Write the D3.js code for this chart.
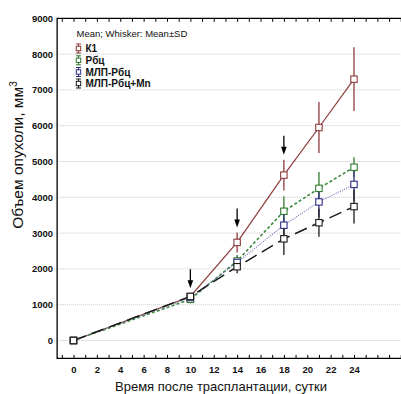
<!DOCTYPE html>
<html>
<head>
<meta charset="utf-8">
<script src="https://cdn.jsdelivr.net/npm/d3@7"></script>
<style>
  html, body { margin: 0; padding: 0; background: #fff; }
  svg { display: block; font-family: "Liberation Sans", Arial, sans-serif; }
</style>
</head>
<body>
<svg id="chart" width="401" height="394"></svg>
<script>
// days after transplantation
const days = [0, 10, 14, 18, 21, 24];
// mean tumour volume, mm3
const k1 = [0, 1230, 2740, 4620, 5950, 7300];
const rbc = [0, 1150, 2220, 3610, 4250, 4840];
const mlpRbc = [0, 1200, 2180, 3220, 3870, 4360];
const mlpRbcMn = [0, 1230, 2060, 2840, 3290, 3740];
// standard deviation
const k1Sd = [0, 90, 280, 430, 710, 890];
const rbcSd = [0, 110, 170, 420, 460, 280];
const mlpRbcSd = [0, 100, 160, 380, 420, 470];
const mlpRbcMnSd = [0, 80, 180, 450, 390, 470];
// injection days marked with arrows
const arrowDays = [10, 14, 18];
const seriesNames = ["К1", "Рбц", "МЛП-Рбц", "МЛП-Рбц+Mn"];
const xLabelTicks = [0, 2, 4, 6, 8, 10, 12, 14, 16, 18, 20, 22, 24];
const yTicks = [0, 1000, 2000, 3000, 4000, 5000, 6000, 7000, 8000, 9000];

const series = [
  { name: seriesNames[0], mean: k1, sd: k1Sd, color: "#8c3b3b", barColor: "#8c3b3b", width: 1.2, dash: null },
  { name: seriesNames[1], mean: rbc, sd: rbcSd, color: "#3d8a3d", barColor: "#2f7a2f", width: 1.6, dash: "3,2.2" },
  { name: seriesNames[2], mean: mlpRbc, sd: mlpRbcSd, color: "#6b6bb5", barColor: "#2e2e80", width: 1.1, dash: "1,1.3" },
  { name: seriesNames[3], mean: mlpRbcMn, sd: mlpRbcMnSd, color: "#1a1a1a", barColor: "#1a1a1a", width: 1.5, dash: "13,6" }
];

const svg = d3.select("#chart");

const x = d3.scaleLinear().domain([0, 24]).range([73.5, 354]);
const y = d3.scaleLinear().domain([-500, 9000]).range([358.4, 18.3]);

const frameLeft = x(-1.4), frameRight = x(30), frameTop = y(9000), frameBottom = y(-500);

// gridlines
svg.append("g")
  .selectAll("line")
  .data(yTicks.filter(d => d < 9000))
  .join("line")
    .attr("x1", frameLeft).attr("x2", frameRight)
    .attr("y1", d => y(d)).attr("y2", d => y(d))
    .attr("stroke", "#c8c8c8")
    .attr("stroke-width", 1)
    .attr("stroke-dasharray", "1,1");

// minor ticks bottom / top
svg.append("g")
  .attr("transform", `translate(0,${frameBottom})`)
  .call(d3.axisBottom(x).tickValues(d3.range(-1, 31)).tickSize(-3.5).tickFormat(""))
  .call(g => g.select(".domain").remove())
  .selectAll(".tick line").attr("stroke", "#000");

svg.append("g")
  .attr("transform", `translate(0,${frameTop})`)
  .call(d3.axisTop(x).tickValues(d3.range(-1, 31)).tickSize(-3.5).tickFormat(""))
  .call(g => g.select(".domain").remove())
  .selectAll(".tick line").attr("stroke", "#000");

// x labels
svg.append("g")
  .attr("transform", `translate(0,${frameBottom})`)
  .call(d3.axisBottom(x).tickValues(xLabelTicks).tickSize(0).tickPadding(8).tickFormat(d3.format("d")))
  .call(g => g.select(".domain").remove())
  .selectAll(".tick text")
    .attr("font-size", 9.5)
    .attr("font-weight", "bold")
    .attr("font-family", "Liberation Sans, Arial, sans-serif")
    .attr("fill", "#111");

// y labels
svg.append("g")
  .attr("transform", `translate(${frameLeft},0)`)
  .call(d3.axisLeft(y).tickValues(yTicks).tickSize(0).tickPadding(4).tickFormat(d3.format("d")))
  .call(g => g.select(".domain").remove())
  .selectAll(".tick text")
    .attr("font-size", 9.5)
    .attr("font-weight", "bold")
    .attr("font-family", "Liberation Sans, Arial, sans-serif")
    .attr("fill", "#111");

// frame
svg.append("path")
  .attr("d", `M${frameRight},${frameTop}H${frameLeft}V${frameBottom}H${frameRight}`)
  .attr("fill", "none")
  .attr("stroke", "#000")
  .attr("stroke-width", 1.3);

// lines
const line = d3.line()
  .x((d, i) => x(days[i]))
  .y(d => y(d));

const plot = svg.append("g");

series.forEach(s => {
  plot.append("path")
    .datum(s.mean)
    .attr("fill", "none")
    .attr("stroke", s.color)
    .attr("stroke-width", s.width)
    .attr("stroke-dasharray", s.dash)
    .attr("d", line);
});

// whiskers
series.forEach(s => {
  plot.append("g")
    .selectAll("line")
    .data(s.mean.map((m, i) => ({ day: days[i], lo: m - s.sd[i], hi: m + s.sd[i] })).filter(d => d.hi > d.lo))
    .join("line")
      .attr("x1", d => x(d.day)).attr("x2", d => x(d.day))
      .attr("y1", d => y(d.lo)).attr("y2", d => y(d.hi))
      .attr("stroke", s.barColor)
      .attr("stroke-width", 1.3);
});

// markers
series.forEach(s => {
  plot.append("g")
    .selectAll("rect")
    .data(s.mean.map((m, i) => ({ day: days[i], v: m })))
    .join("rect")
      .attr("x", d => x(d.day) - 3.2)
      .attr("y", d => y(d.v) - 3.2)
      .attr("width", 6.4)
      .attr("height", 6.4)
      .attr("fill", "#fff")
      .attr("stroke", s.barColor)
      .attr("stroke-width", 1.1);
});

// arrows above the highest whisker
const arrows = svg.append("g");
arrowDays.forEach(day => {
  const i = days.indexOf(day);
  const tipY = d3.min(series, s => y(s.mean[i] + s.sd[i])) - 5;
  const ax = x(day);
  arrows.append("line")
    .attr("x1", ax).attr("x2", ax)
    .attr("y1", tipY - 19).attr("y2", tipY - 6)
    .attr("stroke", "#000").attr("stroke-width", 1.3);
  arrows.append("path")
    .attr("d", `M${ax - 2.8},${tipY - 8}L${ax + 2.8},${tipY - 8}L${ax},${tipY}Z`)
    .attr("fill", "#000");
});

// legend
const legend = svg.append("g").attr("font-family", "Liberation Sans, Arial, sans-serif");
legend.append("text")
  .attr("x", 76.5).attr("y", 36.5)
  .attr("font-size", 9.5)
  .attr("fill", "#111")
  .text("Mean; Whisker: Mean±SD");

const legendRows = [48.5, 60.3, 72, 83.5];
series.forEach((s, i) => {
  const cy = legendRows[i];
  const g = legend.append("g").attr("transform", `translate(78.5,${cy})`);
  g.append("line").attr("y1", -4.5).attr("y2", 4.5).attr("stroke", s.barColor).attr("stroke-width", 1.1);
  g.append("line").attr("x1", -2.5).attr("x2", 2.5).attr("y1", -4.5).attr("y2", -4.5).attr("stroke", s.barColor);
  g.append("line").attr("x1", -2.5).attr("x2", 2.5).attr("y1", 4.5).attr("y2", 4.5).attr("stroke", s.barColor);
  g.append("rect").attr("x", -2.2).attr("y", -2.2).attr("width", 4.4).attr("height", 4.4)
    .attr("fill", "#fff").attr("stroke", s.barColor);
  legend.append("text")
    .attr("x", 85.5).attr("y", cy + 3.5)
    .attr("font-size", 10)
    .attr("font-weight", "bold")
    .attr("fill", "#111")
    .text(s.name);
});

// axis titles
svg.append("text")
  .attr("transform", `translate(23,155) rotate(-90)`)
  .attr("text-anchor", "middle")
  .attr("font-size", 15.5)
  .attr("fill", "#111")
  .text("Объем опухоли, мм")
  .append("tspan")
    .attr("font-size", 10)
    .attr("dy", -6)
    .text("3");

svg.append("text")
  .attr("x", 221).attr("y", 390.5)
  .attr("text-anchor", "middle")
  .attr("font-size", 13)
  .attr("fill", "#111")
  .text("Время после трасплантации, сутки");
</script>
</body>
</html>
